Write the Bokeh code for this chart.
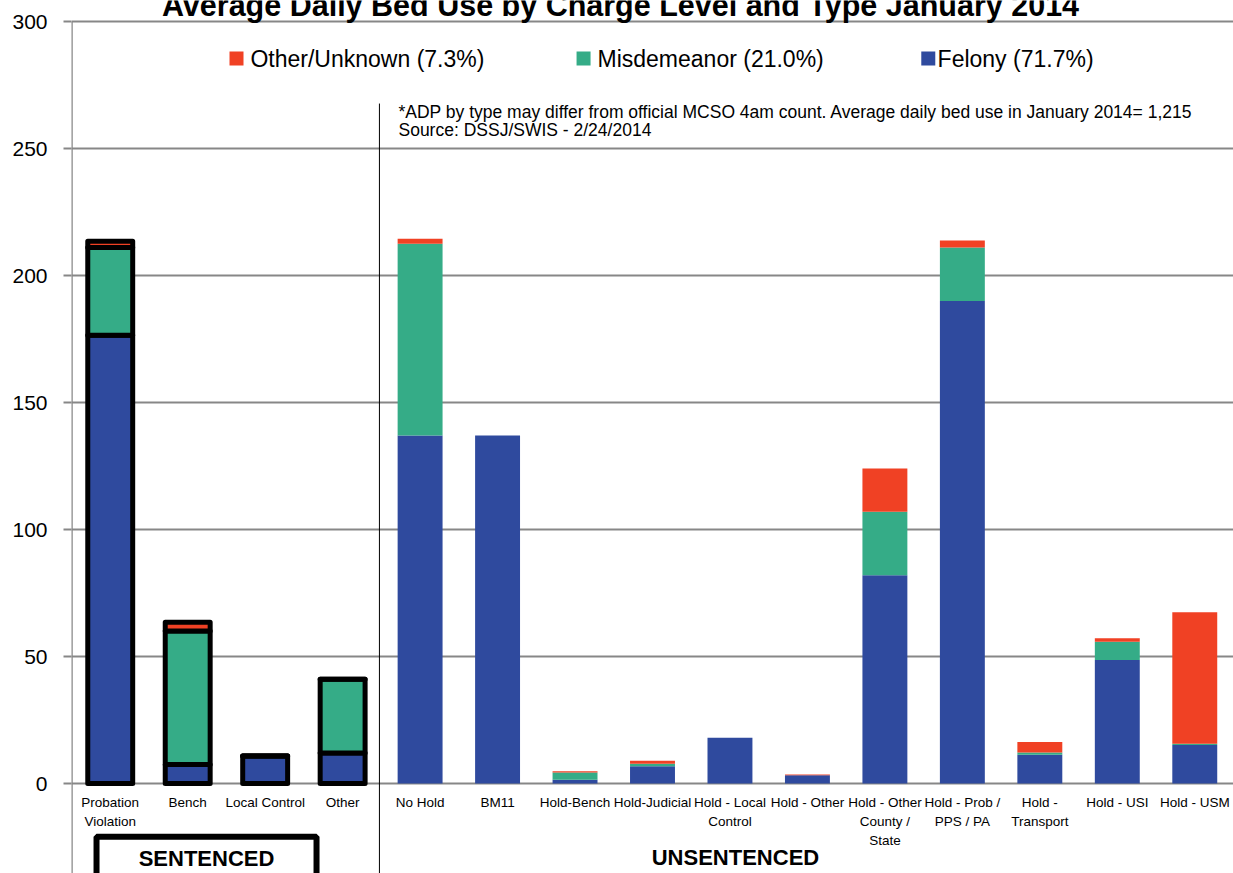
from bokeh.plotting import figure
from bokeh.models import Range1d, FixedTicker, ColumnDataSource
from bokeh.embed import file_html
from bokeh.resources import INLINE
from bokeh.core.properties import value

# ---------------- data ----------------
categories = ["Probation\nViolation", "Bench", "Local Control", "Other",
              "No Hold", "BM11", "Hold-Bench", "Hold-Judicial",
              "Hold - Local\nControl", "Hold - Other", "Hold - Other\nCounty /\nState",
              "Hold - Prob /\nPPS / PA", "Hold -\nTransport", "Hold - USI", "Hold - USM"]
felony = [176.5, 7.5, 10.8, 12.0, 137.0, 137.0, 1.5, 6.8, 18.0, 3.3, 82.0, 190.0, 11.3, 48.6, 15.2]
misdemeanor = [34.5, 52.5, 0.0, 29.0, 75.5, 0.0, 2.8, 1.0, 0.0, 0.0, 25.0, 21.0, 0.9, 7.2, 0.5]
other_unknown = [2.5, 3.5, 0.0, 0.0, 2.0, 0.0, 0.5, 1.2, 0.0, 0.2, 17.0, 2.8, 4.1, 1.4, 51.7]
n_sentenced = 4
series_labels = ["Other/Unknown (7.3%)", "Misdemeanor (21.0%)", "Felony (71.7%)"]
group_labels = ["SENTENCED", "UNSENTENCED"]
y_ticks = [0, 50, 100, 150, 200, 250, 300]
title_text = "Average Daily Bed Use by Charge Level and Type January 2014"
note_lines = ["*ADP by type may differ from official MCSO 4am count.  Average daily bed use in January 2014= 1,215",
              "Source: DSSJ/SWIS - 2/24/2014"]

# ---------------- style ----------------
BLUE, GREEN, RED = "#2F4A9E", "#35AC87", "#F04124"
GRID = "#878787"
FONT = "Liberation Sans"
Y_MIN = -35.43
Y_MAX = 308.27   # frame reaches canvas top; grid tops out at 300

xs = [i + 0.5 for i in range(len(categories))]
src_s = ColumnDataSource(dict(x=xs[:n_sentenced], felony=felony[:n_sentenced],
                              misdemeanor=misdemeanor[:n_sentenced], other=other_unknown[:n_sentenced]))
src_u = ColumnDataSource(dict(x=xs[n_sentenced:], felony=felony[n_sentenced:],
                              misdemeanor=misdemeanor[n_sentenced:], other=other_unknown[n_sentenced:]))

p = figure(width=1233, height=873, output_backend="svg", toolbar_location=None,
           x_range=Range1d(0, 15), y_range=Range1d(Y_MIN, Y_MAX),
           x_axis_location=None, min_border_left=71, min_border_right=0,
           min_border_top=0, min_border_bottom=0)
p.outline_line_color = None
p.background_fill_color = "white"

ticker = FixedTicker(ticks=y_ticks)
p.yaxis.ticker = ticker
p.ygrid.ticker = ticker
p.xgrid.visible = False
p.ygrid.grid_line_color = GRID
p.ygrid.grid_line_width = 2
ax = p.yaxis[0]
ax.axis_line_color = None
ax.major_tick_line_color = GRID
ax.major_tick_line_width = 2
ax.major_tick_out = 8
ax.major_tick_in = 0
ax.minor_tick_line_color = None
ax.major_label_text_font = FONT
ax.major_label_text_font_size = "21px"
ax.major_label_text_color = "black"
ax.major_label_standoff = 16

# visible axis line only from the bottom edge up to the top tick
p.segment(x0=[0], y0=[Y_MIN - 5], x1=[0], y1=[max(y_ticks)],
          line_color=GRID, line_width=2.5)

stack = ["felony", "misdemeanor", "other"]
p.vbar_stack(stack, x="x", width=0.58, source=src_u,
             fill_color=[BLUE, GREEN, RED], line_color=None)
p.vbar_stack(stack, x="x", width=0.58, source=src_s,
             fill_color=[BLUE, GREEN, RED], line_color="black", line_width=5,
             line_join="round")

# category labels
p.text(x=xs, y=[-4.6] * len(xs), text=categories, text_align="center",
       text_baseline="top", text_font=value(FONT), text_font_size="13.5px",
       text_line_height=1.25, text_color="black")

# separator between sentenced / unsentenced
p.segment(x0=[3.975], y0=[267.7], x1=[3.975], y1=[Y_MIN - 5],
          line_color="black", line_width=1)

# sentenced box
p.quad(left=[0.323], right=[3.163], top=[-21.0], bottom=[-60],
       fill_color=None, line_color="black", line_width=6)

# group labels
p.text(x=[1.743, 8.571], y=[-29.5, -29.1], text=group_labels, text_align="center",
       text_baseline="middle", text_font=value(FONT), text_font_style="bold",
       text_font_size="22px", text_color="black")

# legend
p.scatter(x=[2.13, 6.61, 11.06], y=[285.4] * 3, marker="square", size=14,
          fill_color=[RED, GREEN, BLUE], line_color=None)
p.text(x=[2.31, 6.79, 11.18], y=[285.4] * 3, text=series_labels,
       text_align="left", text_baseline="middle", text_font=value(FONT),
       text_font_size="23px", text_color="black")

# note
p.text(x=[4.221, 4.221], y=[264.4, 257.1], text=note_lines, text_align="left",
       text_baseline="middle", text_font=value(FONT), text_font_size="17.5px",
       text_color="black")

# title (cropped at the top edge as in the original)
p.text(x=[7.087], y=[306.4], text=[title_text], text_align="center",
       text_baseline="middle", text_font=value(FONT), text_font_style="bold",
       text_font_size="30.5px", text_color="black")

open("out.html", "w").write(file_html(p, INLINE))
